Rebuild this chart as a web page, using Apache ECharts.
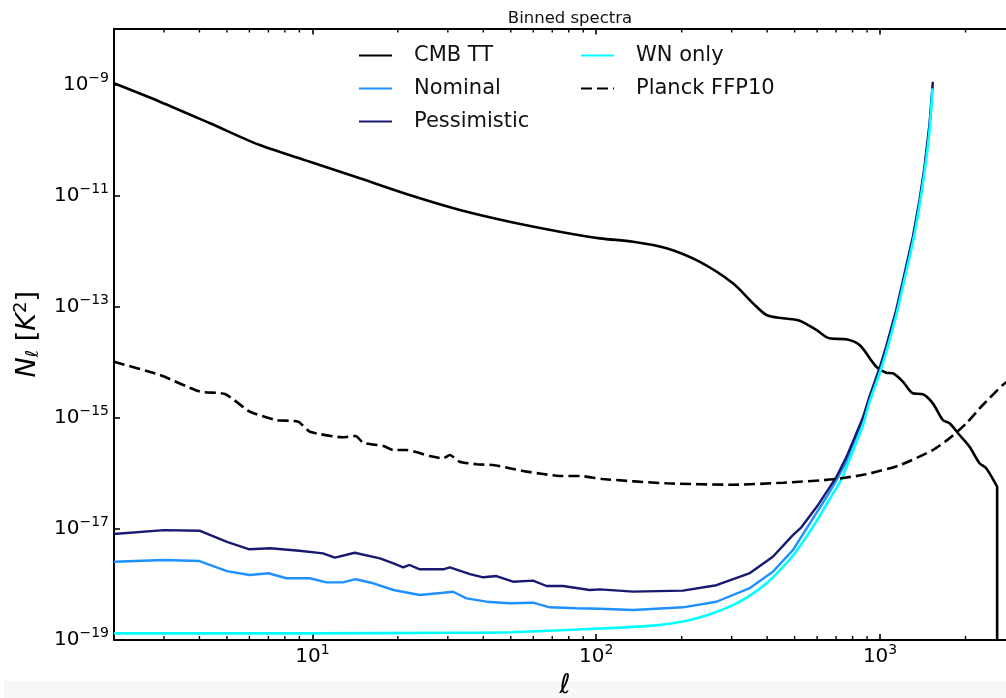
<!DOCTYPE html>
<html><head><meta charset="utf-8">
<script src="https://cdn.jsdelivr.net/npm/echarts@6/dist/echarts.min.js"></script>
<style>html,body{margin:0;padding:0;background:#fff;overflow:hidden;width:1006px;height:698px}#c{width:1016px;height:698px}</style>
</head><body><div id="c"></div>
<script>
// ---- data (multipole ell, N_ell in K^2) ----
const cmbL = [2, 2.9, 4.36, 6.53, 9.8, 14.7, 22, 33.1, 49.5, 74.4, 103, 135, 177, 231, 303, 357, 398, 455, 521, 596, 664, 760, 847, 970, 1051, 1109, 1203, 1305, 1415, 1534, 1664, 1757, 1905, 2066, 2241, 2365, 2566, 2585, 2585];
const cmbV = [1.05e-9, 4.9e-10, 2.0e-10, 8.1e-11, 4.06e-11, 2.04e-11, 1.02e-11, 5.48e-12, 3.37e-12, 2.23e-12, 1.69e-12, 1.47e-12, 1.12e-12, 6.41e-13, 2.62e-13, 1.14e-13, 7.03e-14, 6.12e-14, 5.55e-14, 3.78e-14, 2.67e-14, 2.56e-14, 2.02e-14, 8.22e-15, 6.41e-15, 6.25e-15, 4.42e-15, 2.73e-15, 2.62e-15, 1.80e-15, 9.02e-16, 7.85e-16, 4.84e-16, 2.98e-16, 1.50e-16, 1.22e-16, 6.08e-17, 5.6e-17, 1e-30];

const nomL = [2, 3, 4, 5, 6, 7, 8.1, 9.8, 11.2, 12.8, 14.2, 16.4, 19.3, 23.9, 28.9, 31.3, 34.9, 41.1, 49.5, 59.9, 68.5, 85.2, 103, 135, 202, 265, 346, 419, 493, 600, 650, 700, 760, 800, 870, 918, 1000, 1051, 1140, 1220, 1305, 1377, 1434, 1494, 1534];
const nomV = [2.52e-18, 2.70e-18, 2.59e-18, 1.71e-18, 1.45e-18, 1.56e-18, 1.27e-18, 1.27e-18, 1.07e-18, 1.07e-18, 1.22e-18, 1.03e-18, 7.8e-19, 6.34e-19, 6.97e-19, 7.26e-19, 5.52e-19, 4.80e-19, 4.49e-19, 4.60e-19, 3.80e-19, 3.65e-19, 3.59e-19, 3.40e-19, 3.80e-19, 4.79e-19, 8.32e-19, 1.66e-18, 4.07e-18, 1.995e-17, 3.8e-17, 7.24e-17, 1.58e-16, 3.16e-16, 9.12e-16, 2.19e-15, 7.59e-15, 1.74e-14, 7.94e-14, 3.63e-13, 1.66e-12, 7.59e-12, 3.02e-11, 1.78e-10, 1.0e-9];

const pesL = [2, 3, 4, 5, 6, 7.1, 9, 10.9, 12, 14.1, 17.3, 19.3, 20.9, 22, 23.9, 28.9, 30.5, 35.9, 40, 44.5, 50.9, 59.9, 66.8, 76.4, 94.8, 103, 135, 202, 265, 346, 419, 493, 528, 600, 650, 700, 760, 800, 870, 918, 1000, 1051, 1140, 1220, 1305, 1377, 1434, 1494, 1534];
const pesV = [7.94e-18, 9.33e-18, 9.12e-18, 5.75e-18, 4.22e-18, 4.40e-18, 3.98e-18, 3.57e-18, 2.98e-18, 3.66e-18, 2.90e-18, 2.36e-18, 2.00e-18, 2.20e-18, 1.84e-18, 1.84e-18, 2.00e-18, 1.51e-18, 1.32e-18, 1.39e-18, 1.10e-18, 1.15e-18, 9.2e-19, 9.2e-19, 7.8e-19, 8.0e-19, 7.3e-19, 7.6e-19, 9.5e-19, 1.55e-18, 3.09e-18, 7.59e-18, 1.05e-17, 2.51e-17, 4.68e-17, 8.32e-17, 1.91e-16, 3.55e-16, 1.0e-15, 2.40e-15, 8.32e-15, 1.91e-14, 8.71e-14, 3.98e-13, 1.82e-12, 8.32e-12, 3.31e-11, 2.0e-10, 1.12e-9];

const wnL = [2, 10, 30, 50, 103, 150, 200, 250, 303, 350, 400, 450, 500, 550, 600, 650, 700, 730, 800, 870, 918, 1000, 1051, 1140, 1220, 1305, 1377, 1434, 1494, 1530];
const wnV = [1.29e-19, 1.29e-19, 1.32e-19, 1.35e-19, 1.58e-19, 1.74e-19, 2.09e-19, 2.82e-19, 4.17e-19, 6.31e-19, 1.05e-18, 1.91e-18, 3.55e-18, 7.08e-18, 1.41e-17, 2.82e-17, 5.25e-17, 7.59e-17, 2.40e-16, 7.24e-16, 1.91e-15, 6.61e-15, 1.51e-14, 6.92e-14, 3.16e-13, 1.45e-12, 6.61e-12, 2.63e-11, 1.51e-10, 8.51e-10];

const ffpL = [2, 2.9, 4.02, 4.92, 6.03, 7.48, 8.91, 9.8, 12.8, 14.2, 15.1, 17.8, 19.3, 21.5, 25.9, 28.9, 30.5, 33, 37.9, 43.3, 49.5, 56.8, 65, 74.4, 87.5, 105, 177, 303, 455, 682, 894, 1175, 1534, 1757, 2012, 2301, 2706, 3000];
const ffpV = [1.01e-14, 5.83e-15, 2.92e-15, 2.65e-15, 1.27e-15, 9.0e-16, 8.4e-16, 5.56e-16, 4.4e-16, 4.65e-16, 3.52e-16, 3.06e-16, 2.59e-16, 2.59e-16, 2.02e-16, 1.84e-16, 2.11e-16, 1.60e-16, 1.44e-16, 1.39e-16, 1.22e-16, 1.06e-16, 9.6e-17, 8.83e-17, 8.83e-17, 7.8e-17, 6.52e-17, 6.15e-17, 6.68e-17, 7.69e-17, 9.48e-17, 1.39e-16, 2.59e-16, 4.22e-16, 7.85e-16, 1.68e-15, 3.86e-15, 5.8e-15];

const seriesNames = ['CMB TT', 'Nominal', 'Pessimistic', 'WN only', 'Planck FFP10'];
const minorTickL = [3, 4, 5, 6, 7, 8, 9, 20, 30, 40, 50, 60, 70, 80, 90, 200, 300, 400, 500, 600, 700, 800, 900, 2000, 3000];
const xRange = [2, 3000];
const yRange = [1e-19, 1e-8];

// ---- chart ----
const FONT = 'DejaVu Sans';
const pairs = (L, V) => L.map((l, i) => [l, V[i]]);
const MINUS = '\u2212';
const powLabel = e => '{b|10}{s|' + (e < 0 ? MINUS : '') + Math.abs(e) + '}';
const labelRich = {
  b: { fontFamily: FONT, fontSize: 20, color: '#000' },
  s: { fontFamily: FONT, fontSize: 14, color: '#000', padding: [0, 0, 12, 0] }
};

const chart = echarts.init(document.getElementById('c'), null, { renderer: 'canvas' });
const lineBase = { type: 'line', symbol: 'none', showSymbol: false, xAxisIndex: 0, yAxisIndex: 0, animation: false };
const legendBase = {
  orient: 'vertical', top: 45, padding: 0,
  itemWidth: 33, itemHeight: 14, itemGap: 12, selectedMode: false,
  itemStyle: { opacity: 0, borderWidth: 0 },
  textStyle: { fontFamily: FONT, fontSize: 21, color: '#111', lineHeight: 20, padding: [0, 0, 0, 17] }
};

chart.setOption({
  animation: false,
  backgroundColor: '#fff',
  title: {
    text: 'Binned spectra', left: 565, top: 5, textAlign: 'center',
    textStyle: { fontFamily: FONT, fontSize: 16.5, fontWeight: 'normal', color: '#111' }
  },
  graphic: [{ type: 'rect', z: -10, silent: true, shape: { x: 4, y: 681, width: 1012, height: 17 }, style: { fill: '#f7f7f7' } }],
  grid: { left: 114, right: 0.5, top: 29, bottom: 58.5, containLabel: false, outerBoundsMode: 'none' },
  legend: [
    Object.assign({}, legendBase, { data: seriesNames.slice(0, 3), left: 358 }),
    Object.assign({}, legendBase, { data: seriesNames.slice(3), left: 580 })
  ],
  xAxis: [
    {
      type: 'log', logBase: 10, min: xRange[0], max: xRange[1], position: 'bottom',
      name: '{i|\u2113}', nameLocation: 'middle', nameGap: 33,
      nameTextStyle: { rich: { i: { fontFamily: FONT, fontStyle: 'italic', fontSize: 27, color: '#000' } } },
      axisLine: { show: true, lineStyle: { color: '#000', width: 2 } },
      axisTick: { show: true, inside: true, length: 5.5, lineStyle: { color: '#000', width: 1.6 } },
      splitLine: { show: false }, minorTick: { show: false },
      axisLabel: {
        margin: 4, rich: labelRich,
        formatter: v => { const e = Math.log10(v); return Math.abs(e - Math.round(e)) < 1e-6 ? powLabel(Math.round(e)) : ''; }
      }
    },
    {
      type: 'log', logBase: 10, min: xRange[0], max: xRange[1], position: 'top',
      axisLine: { show: true, lineStyle: { color: '#000', width: 2 } },
      axisTick: { show: true, inside: true, length: 5.5, lineStyle: { color: '#000', width: 1.6 } },
      axisLabel: { show: false }, splitLine: { show: false }
    }
  ],
  yAxis: [{
    type: 'log', logBase: 10, min: yRange[0], max: yRange[1], interval: 2,
    name: '{i|N}{sub|\u2113}{r| [}{i|K}{sup|2}{r|]}', nameLocation: 'middle', nameGap: 70, nameRotate: 90,
    nameTextStyle: {
      rich: {
        i: { fontFamily: FONT, fontStyle: 'italic', fontSize: 27, color: '#000' },
        r: { fontFamily: FONT, fontSize: 27, color: '#000' },
        sub: { fontFamily: FONT, fontStyle: 'italic', fontSize: 18, color: '#000', padding: [10, 0, 0, 0] },
        sup: { fontFamily: FONT, fontSize: 18, color: '#000', padding: [0, 0, 14, 0] }
      }
    },
    axisLine: { show: true, lineStyle: { color: '#000', width: 2 } },
    axisTick: { show: true, inside: true, length: 6, lineStyle: { color: '#000', width: 1.6 } },
    splitLine: { show: false },
    axisLabel: {
      margin: 5, rich: labelRich, showMaxLabel: false,
      formatter: v => { const e = Math.round(Math.log10(v)); return (e % 2 !== 0 && e <= -9) ? powLabel(e) : ''; }
    }
  }],
  series: [
    Object.assign({}, lineBase, { name: 'CMB TT', data: pairs(cmbL, cmbV), smooth: 0.3, z: 2,
      color: '#000', lineStyle: { color: '#000', width: 2.6 } }),
    Object.assign({}, lineBase, { name: 'Nominal', data: pairs(nomL, nomV), z: 3,
      color: '#1e90ff', lineStyle: { color: '#1e90ff', width: 2.4 } }),
    Object.assign({}, lineBase, { name: 'Pessimistic', data: pairs(pesL, pesV), z: 4,
      color: '#191970', lineStyle: { color: '#191970', width: 2.4 } }),
    Object.assign({}, lineBase, { name: 'WN only', data: pairs(wnL, wnV), smooth: 0.2, z: 5,
      color: '#00ffff', lineStyle: { color: '#00ffff', width: 2.6 } }),
    Object.assign({}, lineBase, { name: 'Planck FFP10', data: pairs(ffpL, ffpV), smooth: 0.2, z: 6,
      color: '#000', lineStyle: { color: '#000', width: 2.6, type: [11, 5] } }),
    {
      type: 'custom', name: '_minorTicks', silent: true, clip: false, z: 10,
      xAxisIndex: 0, yAxisIndex: 0,
      data: minorTickL.map(l => [l, yRange[0]]),
      renderItem: (params, api) => {
        const b = api.coord([api.value(0), yRange[0]]);
        const t = api.coord([api.value(0), yRange[1]]);
        return { type: 'group', children: [
          { type: 'line', shape: { x1: b[0], y1: b[1], x2: b[0], y2: b[1] - 3.5 }, style: { stroke: '#000', lineWidth: 1.4 } },
          { type: 'line', shape: { x1: t[0], y1: t[1], x2: t[0], y2: t[1] + 3.5 }, style: { stroke: '#000', lineWidth: 1.4 } }
        ] };
      }
    }
  ]
});
</script></body></html>
